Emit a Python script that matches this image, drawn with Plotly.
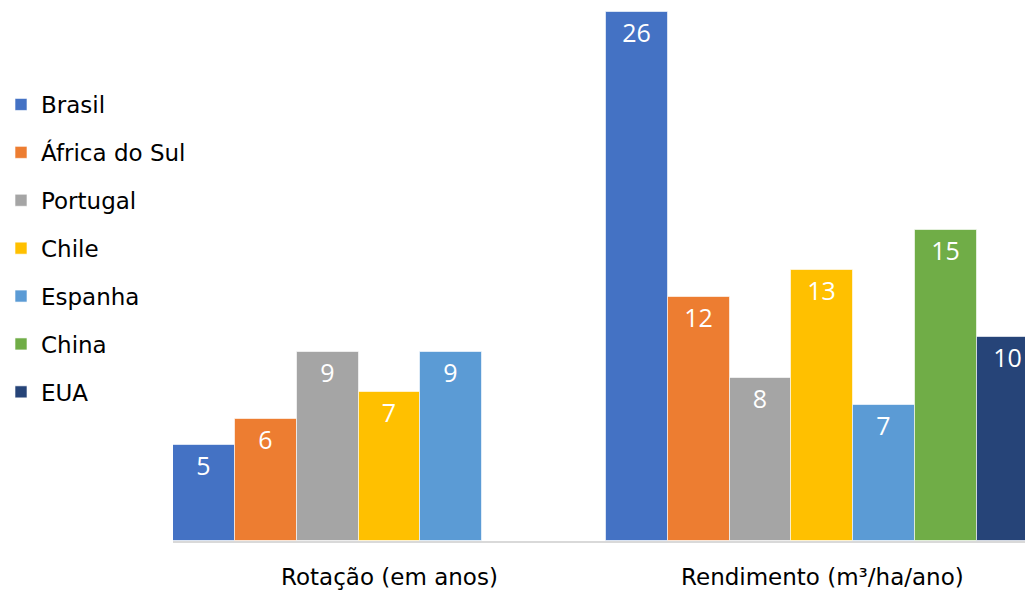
import plotly.graph_objects as go

categories = ["Rotação (em anos)", "Rendimento (m³/ha/ano)"]
series_names = ["Brasil", "África do Sul", "Portugal", "Chile", "Espanha", "China", "EUA"]
colors = ["#4472C4", "#ED7D31", "#A5A5A5", "#FFC000", "#5B9BD5", "#70AD47", "#264478"]

brasil = [4.7, 26.0]
africa_do_sul = [6.0, 12.0]
portugal = [9.3, 8.0]
chile = [7.3, 13.3]
espanha = [9.3, 6.7]
china = [None, 15.3]
eua = [None, 10.0]

values = [brasil, africa_do_sul, portugal, chile, espanha, china, eua]

fig = go.Figure()
for name, vals, col in zip(series_names, values, colors):
    fig.add_trace(go.Bar(
        x=categories, y=vals, name=name, legendgroup=name,
        marker=dict(color=col, line=dict(color="rgba(255,255,255,0.6)", width=1)),
        texttemplate="%{y:.0f}", textposition="inside", insidetextanchor="end",
        textangle=0,
        textfont=dict(color="white", size=25, family="Open Sans"),
        cliponaxis=False,
    ))

fig.update_layout(
    width=1025, height=590,
    barmode="group", bargap=0, bargroupgap=0,
    plot_bgcolor="white", paper_bgcolor="white",
    margin=dict(l=173, r=0, t=0, b=49),
    uniformtext=dict(mode=False),
    legend=dict(
        x=(1 - 173) / 852, y=1 - 83 / 541, xref="paper", yref="paper",
        xanchor="left", yanchor="top",
        font=dict(family="DejaVu Sans", size=23, color="#000000"),
        tracegroupgap=15, traceorder="grouped",
        itemwidth=30,
    ),
    xaxis=dict(
        range=[-0.5, 1.468], showgrid=False, showline=True,
        linecolor="#D9D9D9", linewidth=2, ticks="",
        ticklabelstandoff=14,
        tickfont=dict(family="DejaVu Sans", size=23, color="#000000"),
    ),
    yaxis=dict(range=[0, 26.58], visible=False),
    showlegend=True,
)

fig.write_html("out.html")
